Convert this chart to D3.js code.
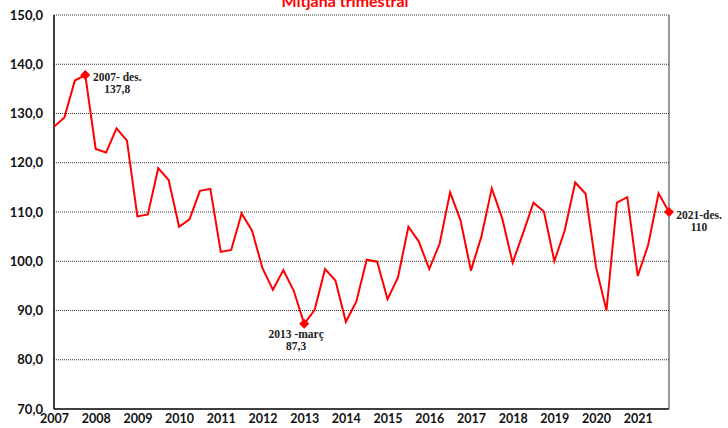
<!DOCTYPE html>
<html>
<head>
<meta charset="utf-8">
<script src="https://cdn.jsdelivr.net/npm/d3@7"></script>
<style>
  body { margin: 0; background: #fff; }
  svg { display: block; }
</style>
</head>
<body>
<svg id="chart" width="728" height="428"></svg>
<script>
// quarterly averages, 2007 Q1 .. 2021 Q4
var years = ["2007","2008","2009","2010","2011","2012","2013","2014","2015","2016","2017","2018","2019","2020","2021"];
var values = [
  127.3, 129.2, 136.7, 137.8,
  122.8, 122.1, 127.0, 124.5,
  109.1, 109.5, 118.9, 116.5,
  107.0, 108.5, 114.3, 114.7,
  101.9, 102.3, 109.7, 106.2,
  98.6, 94.2, 98.2, 94.0,
  87.3, 90.1, 98.4, 96.1,
  87.7, 91.8, 100.3, 99.9,
  92.3, 96.7, 107.0, 104.0,
  98.4, 103.6, 114.0, 108.3,
  98.1, 105.0, 114.8, 108.7,
  99.7, 105.7, 111.9, 110.1,
  100.0, 106.3, 116.0, 113.7,
  98.8, 90.0, 111.9, 113.0,
  97.0, 103.3, 113.8, 110.0
];
var yTicks = [70, 80, 90, 100, 110, 120, 130, 140, 150];
var highlights = [
  {i: 3,  lines: ["2007- des.", "137,8"]},
  {i: 24, lines: ["2013 -març", "87,3"]},
  {i: 59, lines: ["2021-des.", "110"]}
];

var svg = d3.select("#chart");
var margin = {top: 15, right: 59, bottom: 19, left: 54};
var width = 728 - margin.left - margin.right;
var height = 428 - margin.top - margin.bottom;

var x = d3.scaleLinear().domain([0, values.length - 1]).range([0, width]);
var y = d3.scaleLinear().domain([70, 150]).range([height, 0]);

var g = svg.append("g").attr("transform", "translate(" + margin.left + "," + margin.top + ")");

// title (cut at top, like the original)
svg.append("text")
    .attr("x", 345).attr("y", 7)
    .attr("text-anchor", "middle")
    .style("font-family", "Lato, 'Open Sans', sans-serif")
    .style("font-weight", "bold")
    .style("font-size", "16px")
    .style("fill", "#ff0000")
    .text("Mitjana trimestral");

// gridlines
g.append("g").selectAll("line")
    .data(yTicks.filter(function(d){ return d > 70; }))
    .enter().append("line")
    .attr("x1", 0).attr("x2", width)
    .attr("y1", function(d){ return y(d); })
    .attr("y2", function(d){ return y(d); })
    .style("stroke", "#333")
    .style("stroke-width", 1)
    .style("stroke-dasharray", "1,1");

// frame: left, bottom solid black, right gray
g.append("line").attr("x1", 0).attr("x2", 0).attr("y1", 0).attr("y2", height)
    .style("stroke", "#000").style("stroke-width", 1.5);
g.append("line").attr("x1", 0).attr("x2", width).attr("y1", height).attr("y2", height)
    .style("stroke", "#000").style("stroke-width", 1.5);
g.append("line").attr("x1", width).attr("x2", width).attr("y1", 0).attr("y2", height)
    .style("stroke", "#555").style("stroke-width", 1.2);

// y axis labels
var yAxis = d3.axisLeft(y).tickValues(yTicks).tickSize(0).tickPadding(11)
    .tickFormat(function(d){ return d3.format(".1f")(d).replace(".", ","); });
g.append("g").call(yAxis)
    .call(function(a){ a.select(".domain").remove(); })
    .selectAll("text")
    .style("font-family", "Lato, 'Open Sans', sans-serif")
    .style("font-weight", "bold")
    .style("font-size", "13px")
    .style("fill", "#111");

// x axis labels, one per year at the first quarter
var xAxis = d3.axisBottom(x)
    .tickValues(years.map(function(d, k){ return k * 4; }))
    .tickSize(0).tickPadding(5)
    .tickFormat(function(d){ return years[d / 4]; });
g.append("g").attr("transform", "translate(0," + height + ")").call(xAxis)
    .call(function(a){ a.select(".domain").remove(); })
    .selectAll("text")
    .style("font-family", "Lato, 'Open Sans', sans-serif")
    .style("font-weight", "bold")
    .style("font-size", "12.5px")
    .style("fill", "#111");

// the line
var line = d3.line()
    .x(function(d, i){ return x(i); })
    .y(function(d){ return y(d); });

g.append("path")
    .datum(values)
    .attr("d", line)
    .style("fill", "none")
    .style("stroke", "#ff0000")
    .style("stroke-width", 2)
    .style("stroke-linejoin", "miter");

// markers: square diamonds
g.selectAll(".mark")
    .data(highlights)
    .enter().append("path")
    .attr("class", "mark")
    .attr("d", d3.symbol().type(d3.symbolSquare).size(50))
    .attr("transform", function(d){ return "translate(" + x(d.i) + "," + y(values[d.i]) + ") rotate(45)"; })
    .style("fill", "#ff0000");

// annotation labels
var offsets = {3: [32, 6], 24: [-8, 14], 59: [30, 7]};
var ann = g.selectAll(".ann")
    .data(highlights)
    .enter().append("text")
    .attr("class", "ann")
    .attr("text-anchor", "middle")
    .style("font-family", "'Liberation Serif', 'Times New Roman', serif")
    .style("font-weight", "bold")
    .style("font-size", "11.5px")
    .style("fill", "#222");
ann.selectAll("tspan")
    .data(function(d){ return d.lines.map(function(t){ return {t: t, d: d}; }); })
    .enter().append("tspan")
    .attr("x", function(o){ return x(o.d.i) + offsets[o.d.i][0]; })
    .attr("y", function(o, k){ return y(values[o.d.i]) + offsets[o.d.i][1] + k * 12; })
    .text(function(o){ return o.t; });
</script>
</body>
</html>
